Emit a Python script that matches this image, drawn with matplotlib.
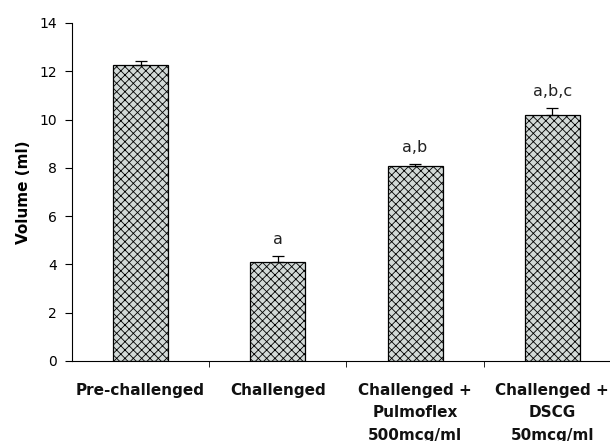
import matplotlib
matplotlib.use('Agg')
import matplotlib.pyplot as plt

plt.rcParams['font.family'] = ['DejaVu Sans']
plt.rcParams['hatch.color'] = '#4f4f4f'
plt.rcParams['hatch.linewidth'] = 0.6

groups = ['Pre-challenged', 'Challenged', 'Challenged +\nPulmoflex\n500mcg/ml', 'Challenged +\nDSCG\n50mcg/ml']
volume = [12.26, 4.1, 8.07, 10.19]
err = [0.16, 0.25, 0.08, 0.29]
letters = ['', 'a', 'a,b', 'a,b,c']

fig = plt.figure(figsize=(6.10, 4.41), dpi=100)
ax = fig.add_axes([72 / 610, 80 / 441, 538 / 610, 338 / 441])

x = range(len(groups))
ax.bar(x, volume, width=0.40, color='#d2d9d7', edgecolor='black', linewidth=0.9,
       hatch='xxxx', zorder=2)
ax.errorbar(x, volume, yerr=[[0] * len(err), err], fmt='none', ecolor='black',
            elinewidth=0.9, capsize=4, capthick=0.9, zorder=3)
for i in x:
    if letters[i]:
        ax.text(i, volume[i] + err[i] + 0.5, letters[i], ha='center', va='baseline',
                fontsize=11.5, color='#222222')

ax.set_xlim(-0.5, 3.42)
ax.set_ylim(0, 14)
ax.set_yticks(range(0, 15, 2))
ax.set_xticks([0.5, 1.5, 2.5], minor=True)
ax.set_xticks(list(x))
ax.set_xticklabels(groups, fontsize=11, fontweight='bold', linespacing=1.6,
                   color='#111111')
ax.tick_params(axis='x', which='major', length=0, pad=16)
ax.tick_params(axis='x', which='minor', length=4, direction='out')
ax.tick_params(axis='y', length=5, labelsize=10, pad=6)
ax.set_ylabel('Volume (ml)', fontsize=11, fontweight='bold', labelpad=6)
ax.spines['top'].set_visible(False)
ax.spines['right'].set_visible(False)

fig.savefig('out.png', dpi=100)
